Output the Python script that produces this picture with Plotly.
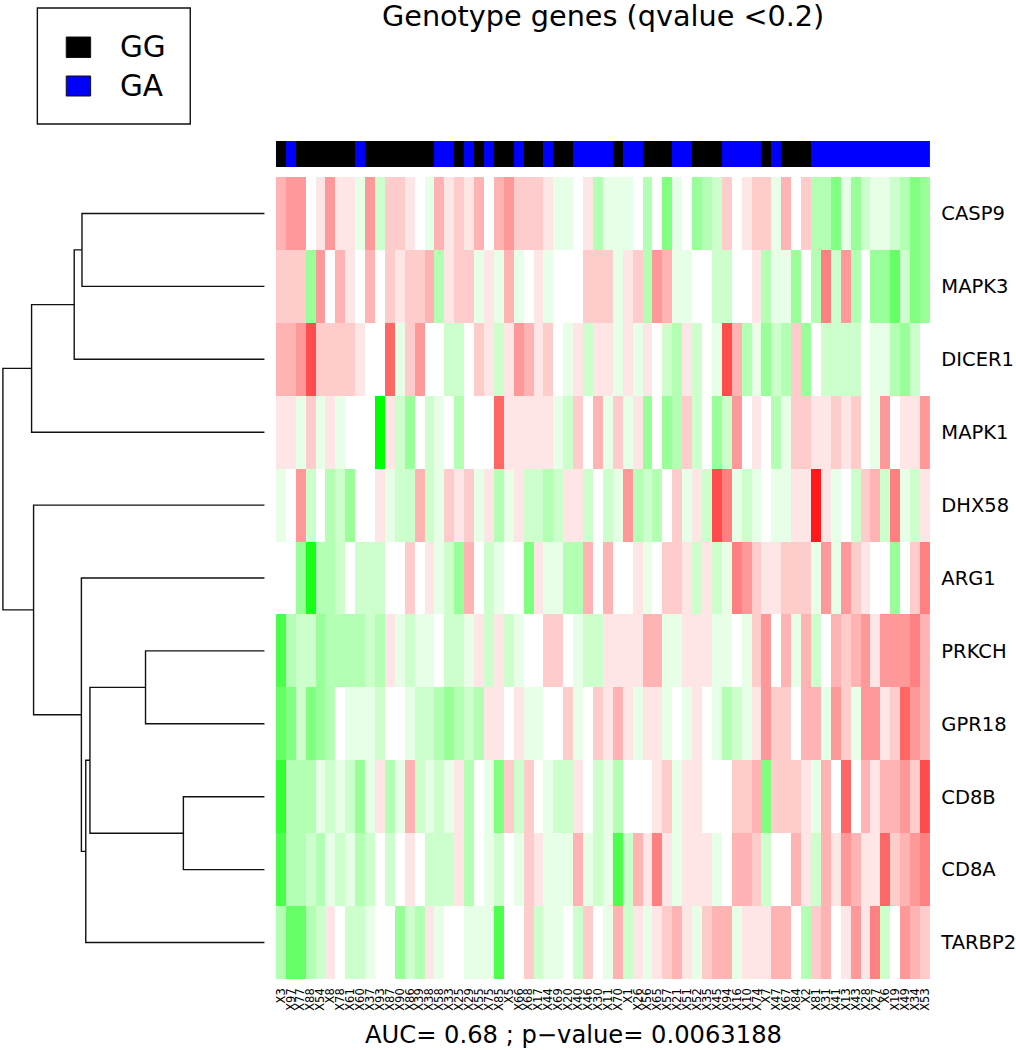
import plotly.graph_objects as go

W, H = 1016, 1050

genes = ["CASP9", "MAPK3", "DICER1", "MAPK1", "DHX58", "ARG1", "PRKCH", "GPR18", "CD8B", "CD8A", "TARBP2"]

samples = ["X3","X97","X77","X88","X54","X8","X78","X61","X60","X37","X93","X87","X90","X86","X39","X38","X58",
           "X33","X25","X29","X55","X75","X85","X5","X66","X68","X17","X44","X69","X20","X40","X46","X30","X11",
           "X70","X1","X26","X56","X65","X57","X21","X51","X52","X35","X45","X94","X16","X10","X74","X7","X47",
           "X67","X84","X2","X81","X31","X41","X13","X43","X28","X27","X6","X19","X49","X34","X53"]

# 0 = GG, 1 = GA
genotype = [0,1,0,0,0,0,0,0,1,0,0,0,0,0,0,0,1,1,0,1,0,1,0,0,1,0,0,1,0,0,1,1,1,1,
            0,1,1,0,0,0,1,1,0,0,0,1,1,1,1,0,1,0,0,0,1,1,1,1,1,1,1,1,1,1,1,1]

casp9  = [3,4,4,0,1,4,1,1,-1,4,-2,2,2,1,0,-1,3,1,2,1,3,0,3,4,2,2,2,1,-1,-1,0,1,-3,-1,
          -1,-1,0,-3,0,-5,-1,0,-4,-3,-2,2,0,1,2,2,-1,3,0,2,-3,-3,-5,-1,-4,-2,-1,-1,-2,-3,-5,-4]
mapk3  = [2,2,2,-4,4,0,3,1,0,3,0,2,1,2,2,3,-3,1,2,2,-1,1,-1,3,-1,0,1,-1,0,0,0,2,2,2,
          -1,1,2,-3,4,3,-1,-1,0,0,-2,-2,0,0,1,-3,-1,-1,-4,0,-3,5,-2,4,-3,0,-4,-4,-6,-2,-5,-4]
dicer1 = [3,3,4,7,2,2,2,2,1,0,0,6,-1,2,4,0,0,-2,-2,0,2,1,-2,1,4,3,1,2,0,-1,1,-2,1,1,
          -1,1,-1,1,0,-2,-3,1,-2,0,-1,7,3,-3,-1,-4,-2,-3,2,-4,0,-2,-2,-2,-2,0,-1,-1,-3,-4,-2,0]
mapk1  = [1,1,-1,2,-1,1,-1,0,0,0,-10,1,-2,-4,0,-2,-1,0,-3,0,0,0,6,1,1,1,1,1,-1,-2,2,0,3,-1,
          2,-1,1,-4,0,-4,-3,2,-2,0,-4,-2,4,0,1,0,-3,-1,2,2,1,1,2,1,2,0,-1,4,0,1,1,4]
dhx58  = [-1,0,4,-2,0,-3,-2,-4,0,0,1,-1,-2,-2,3,-2,-1,2,1,2,-1,1,-3,-1,1,-2,-2,-3,-2,1,1,-2,0,-2,
          -1,4,-3,-2,-3,0,2,-1,1,-2,7,5,-1,-2,-1,0,-1,-1,1,1,9,1,-1,0,-2,2,3,-2,5,-1,-2,1]
arg1   = [0,0,-4,-9,-3,-3,-2,0,-2,-2,-2,0,0,2,0,1,-1,-2,-4,3,0,-2,-1,0,0,-5,1,-1,-1,-3,-3,3,0,3,
          0,0,1,-1,0,2,2,1,-2,1,-2,-1,5,4,2,1,1,2,2,2,-1,4,-1,4,2,1,0,0,-4,0,2,5]
prkch  = [-7,-3,-2,-2,-4,-3,-3,-3,-3,-2,-3,1,-1,-2,-1,-1,0,-2,-2,-1,1,-2,1,-2,-1,0,0,2,2,0,-1,-2,-2,1,
          1,1,1,3,3,-1,-1,1,1,1,-1,-1,0,-1,2,4,0,3,-1,3,-2,0,3,2,3,4,1,4,4,4,5,3]
gpr18  = [-6,-5,-2,-5,-4,-3,0,-1,-1,-1,-2,0,0,-1,-2,-2,-3,-4,-3,-2,-3,1,1,0,1,-1,-1,0,0,2,-1,0,2,1,
          3,1,-1,1,1,-1,0,-1,1,0,-1,-3,-2,-1,1,4,2,2,0,3,3,-1,4,2,-1,4,4,1,2,6,4,3]
cd8b   = [-8,-3,-3,-3,-1,-2,-1,-2,-4,-1,1,-3,-1,3,-2,-1,-2,-1,1,-3,0,-1,-5,2,-2,2,0,-1,-2,-2,1,0,-2,-1,
          -3,0,0,0,1,2,-1,1,1,0,0,0,2,2,3,-5,2,2,2,1,-1,3,0,6,0,3,1,3,3,4,2,7]
cd8a   = [-7,-3,-3,-2,-3,-1,-2,-1,-3,-2,0,-2,0,1,0,-2,-2,-2,1,-3,0,-1,-2,0,-1,2,1,-1,-1,-1,3,-1,-2,-1,
          -7,-2,3,1,5,1,-1,1,1,1,-1,0,3,3,2,-2,0,0,3,1,-2,3,1,4,3,1,1,6,2,3,4,5]
tarbp2 = [-3,-6,-6,-3,-2,1,0,-2,-2,-1,0,0,-4,-2,-3,1,-1,0,0,-1,-1,-1,-7,0,0,2,-2,-1,-1,0,-2,2,0,-1,
          3,-2,1,-1,1,2,3,1,-1,2,3,3,-1,1,1,1,3,3,0,-3,2,3,0,1,4,1,5,-2,0,4,3,2]
expression = [casp9, mapk3, dicer1, mapk1, dhx58, arg1, prkch, gpr18, cd8b, cd8a, tarbp2]

# dendrogram merges: left node, right node, height. Leaves are 0..10, merges 11..20 in order
merge_nodes = [
    (8, 9, 2.04),      # 11 CD8B + CD8A
    (6, 7, 2.99),      # 12 PRKCH + GPR18
    (12, 11, 4.385),   # 13
    (13, 10, 4.49),    # 14 + TARBP2
    (5, 14, 4.60),     # 15 + ARG1
    (4, 15, 5.80),     # 16 + DHX58
    (0, 1, 4.585),     # 17 CASP9 + MAPK3
    (17, 2, 4.78),     # 18 + DICER1
    (18, 3, 5.85),     # 19 + MAPK1
    (19, 16, 6.57),    # 20 root
]

def px_x(p): return p / W
def px_y(p): return 1 - p / H

fig = go.Figure()

fig.add_trace(go.Heatmap(
    z=expression, x=list(range(len(samples))), y=list(range(len(genes))),
    zmin=-10, zmax=10, showscale=False, hoverongaps=False,
    colorscale=[[0, "#00FF00"], [0.5, "#FFFFFF"], [1, "#FF0000"]],
    xaxis="x", yaxis="y"))

fig.add_trace(go.Heatmap(
    z=[genotype], x=list(range(len(samples))), y=[0],
    zmin=0, zmax=1, showscale=False,
    colorscale=[[0, "#000000"], [1, "#0000FF"]],
    xaxis="x2", yaxis="y2"))

pos = {i: (0.0, float(i)) for i in range(len(genes))}
xs, ys = [], []
for k, (a, b, h) in enumerate(merge_nodes):
    ha, ya = pos[a]
    hb, yb = pos[b]
    xs += [ha, h, h, hb, None]
    ys += [ya, ya, yb, yb, None]
    pos[11 + k] = (h, (ya + yb) / 2)
fig.add_trace(go.Scatter(x=xs, y=ys, mode="lines", line=dict(color="#111111", width=1.4),
                         hoverinfo="skip", showlegend=False, cliponaxis=False, xaxis="x3", yaxis="y3"))

heat_dom_x = [px_x(275), px_x(932)]
heat_dom_y = [px_y(979), px_y(177)]

fig.update_layout(
    width=W, height=H, autosize=False,
    margin=dict(l=0, r=0, t=0, b=0),
    paper_bgcolor="white", plot_bgcolor="white",
    font=dict(family="DejaVu Sans", color="black"),
    showlegend=False,
    xaxis=dict(domain=heat_dom_x, anchor="y", range=[-0.5, len(samples) - 0.5],
               tickmode="array", tickvals=list(range(len(samples))), ticktext=samples,
               tickangle=-90, tickfont=dict(size=11.5), ticks="", ticklabelstandoff=6,
               showgrid=False, zeroline=False, showline=False),
    yaxis=dict(domain=heat_dom_y, anchor="x", side="right", range=[len(genes) - 0.5, -0.5],
               tickmode="array", tickvals=list(range(len(genes))), ticktext=genes,
               tickfont=dict(size=19.5), ticks="", ticklabelstandoff=10,
               showgrid=False, zeroline=False, showline=False),
    xaxis2=dict(domain=heat_dom_x, anchor="y2", range=[-0.5, len(samples) - 0.5],
                showticklabels=False, ticks="", showgrid=False, zeroline=False),
    yaxis2=dict(domain=[px_y(167), px_y(141)], anchor="x2", range=[-0.5, 0.5],
                showticklabels=False, ticks="", showgrid=False, zeroline=False),
    xaxis3=dict(domain=[0, px_x(263.7)], anchor="y3", range=[6.5925, 0],
                showticklabels=False, ticks="", showgrid=False, zeroline=False),
    yaxis3=dict(domain=heat_dom_y, anchor="x3", range=[len(genes) - 0.5, -0.5],
                showticklabels=False, ticks="", showgrid=False, zeroline=False),
    shapes=[
        dict(type="rect", xref="paper", yref="paper", x0=px_x(35.5), x1=px_x(189), y0=px_y(124), y1=px_y(8),
             line=dict(color="#111111", width=1.4), fillcolor="white"),
        dict(type="rect", xref="paper", yref="paper", x0=px_x(64.5), x1=px_x(89), y0=px_y(57.5), y1=px_y(37),
             line=dict(color="#111111", width=1), fillcolor="#000000"),
        dict(type="rect", xref="paper", yref="paper", x0=px_x(64.5), x1=px_x(89), y0=px_y(96), y1=px_y(76),
             line=dict(color="#111111", width=1), fillcolor="#0000FF"),
    ],
    annotations=[
        dict(text="Genotype genes (qvalue &lt;0.2)", xref="paper", yref="paper", x=px_x(603), y=px_y(-3),
             xanchor="center", yanchor="top", showarrow=False, font=dict(size=28.7)),
        dict(text="AUC= 0.68 ; p\u2212value= 0.0063188", xref="paper", yref="paper", x=px_x(574), y=px_y(1035),
             xanchor="center", yanchor="middle", showarrow=False, font=dict(size=24.2)),
        dict(text="GG", xref="paper", yref="paper", x=px_x(116), y=px_y(47), xanchor="left", yanchor="middle",
             showarrow=False, font=dict(size=29.5)),
        dict(text="GA", xref="paper", yref="paper", x=px_x(116), y=px_y(86), xanchor="left", yanchor="middle",
             showarrow=False, font=dict(size=29.5)),
    ],
)

fig.write_html("out.html", config=dict(displayModeBar=False),
               post_script="document.body.style.margin='0';")
